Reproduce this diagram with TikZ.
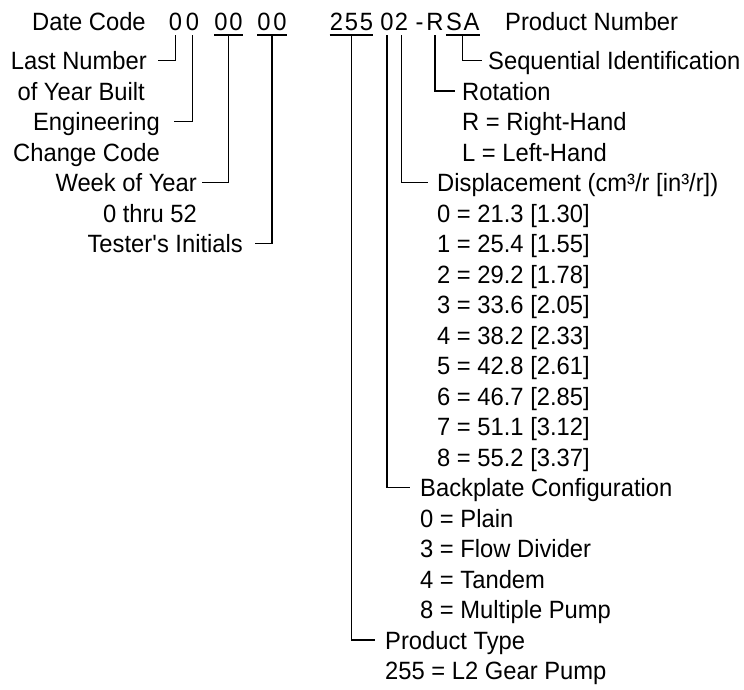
\documentclass[tikz,border=0pt]{standalone}
\usepackage{fontspec}
\setmainfont{Liberation Sans}[FakeStretch=0.95]
\usetikzlibrary{calc}
\begin{document}
\begin{tikzpicture}[x=1pt,y=-1pt,
  font=\fontsize{25}{30}\selectfont,
  lbl/.style={inner sep=0pt, anchor=base west},
  lblr/.style={inner sep=0pt, anchor=base east},
  chr/.style={inner sep=0pt, anchor=base},
  conn/.style={line width=1.1pt},
  uline/.style={line width=1.1pt}]
\useasboundingbox (0,0) rectangle (744,689);
% ---- top row ----
\node[lbl] (datecode) at (32,30) {Date Code};
\node[chr] (d1) at (175.5,30) {0};
\node[chr] (d2) at (192.5,30) {0};
\node[chr] (e1) at (221,30) {0};
\node[chr] (e2) at (236,30) {0};
\node[chr] (t1) at (264,30) {0};
\node[chr] (t2) at (280,30) {0};
\node[chr] (p1) at (336.5,30) {2};
\node[chr] (p2) at (351.5,30) {5};
\node[chr] (p3) at (366.5,30) {5};
\node[chr] (p4) at (387,30) {0};
\node[chr] (p5) at (401.5,30) {2};
\node[chr] (p6) at (419.5,30) {-};
\node[chr] (p7) at (435,30) {R};
\node[chr] (p8) at (454,30) {S};
\node[chr] (p9) at (471.5,30) {A};
\node[lbl] (prodnum) at (505,30) {Product Number};
% underlines
\draw[uline] ([yshift=-5pt]e1.base west) -- ([yshift=-5pt]e2.base east);
\draw[uline] ([yshift=-5pt]t1.base west) -- ([yshift=-5pt]t2.base east);
\draw[uline] ([yshift=-5pt]p1.base west) -- ([yshift=-5pt]p3.base east);
\draw[uline] ([yshift=-5pt]p8.base west) -- ([yshift=-5pt]p9.base east);
\coordinate (g2) at ($(e1.base west)!0.5!(e2.base east)+(0,5)$);
\coordinate (g3) at ($(t1.base west)!0.5!(t2.base east)+(0,5)$);
\coordinate (g255) at ($(p1.base west)!0.5!(p3.base east)+(0,5)$);
\coordinate (gsa) at ($(p8.base west)!0.5!(p9.base east)+(0,5)$);
% ---- left labels ----
\node[lblr] (lastnum) at (147,69.5) {Last Number};
\node[lblr] (ofyear) at (145,100) {of Year Built};
\node[lblr] (eng) at (160,130.5) {Engineering};
\node[lblr] (change) at (160,161) {Change Code};
\node[lblr] (week) at (197,191.5) {Week of Year};
\node[lblr] (thru) at (197,222) {0 thru 52};
\node[lblr] (tester) at (243,252.5) {Tester\textquotesingle s Initials};
% ---- right labels ----
\node[lbl] (seq) at (488,69.5) {Sequential Identification};
\node[lbl] (rot) at (462,100) {Rotation};
\node[lbl] (rh) at (462,130.5) {R = Right-Hand};
\node[lbl] (lh) at (462,161) {L = Left-Hand};
\node[lbl] (disp) at (437,191.5) {Displacement (cm³/r [in³/r])};
\node[lbl] (v0) at (437,222) {0 = 21.3 [1.30]};
\node[lbl] (v1) at (437,252.5) {1 = 25.4 [1.55]};
\node[lbl] (v2) at (437,283) {2 = 29.2 [1.78]};
\node[lbl] (v3) at (437,313.5) {3 = 33.6 [2.05]};
\node[lbl] (v4) at (437,344) {4 = 38.2 [2.33]};
\node[lbl] (v5) at (437,374.5) {5 = 42.8 [2.61]};
\node[lbl] (v6) at (437,405) {6 = 46.7 [2.85]};
\node[lbl] (v7) at (437,435.5) {7 = 51.1 [3.12]};
\node[lbl] (v8) at (437,466) {8 = 55.2 [3.37]};
\node[lbl] (back) at (420,496.5) {Backplate Configuration};
\node[lbl] (b0) at (420,527) {0 = Plain};
\node[lbl] (b3) at (420,557.5) {3 = Flow Divider};
\node[lbl] (b4) at (420,588) {4 = Tandem};
\node[lbl] (b8) at (420,618.5) {8 = Multiple Pump};
\node[lbl] (ptype) at (385,649) {Product Type};
\node[lbl] (p255) at (385,679.5) {255 = L2 Gear Pump};
% ---- connectors ----
\draw[conn] ([yshift=-5pt]d1.base) |- ([xshift=11pt,yshift=9pt]lastnum.base east);
\draw[conn] ([yshift=-5pt]d2.base) |- ([xshift=14pt,yshift=9pt]eng.base east);
\draw[conn] (g2) |- ([xshift=5pt,yshift=9pt]week.base east);
\draw[conn] (g3) |- ([xshift=12pt,yshift=9pt]tester.base east);
\draw[conn] (g255) |- ([xshift=-10pt,yshift=9pt]ptype.base west);
\draw[conn] ([yshift=-5pt]p4.base) |- ([xshift=-10pt,yshift=9pt]back.base west);
\draw[conn] ([yshift=-5pt]p5.base) |- ([xshift=-9pt,yshift=9pt]disp.base west);
\draw[conn] ([yshift=-5pt]p7.base) |- ([xshift=-7pt,yshift=9pt]rot.base west);
\draw[conn] (gsa) |- ([xshift=-6pt,yshift=9pt]seq.base west);
\end{tikzpicture}
\end{document}
